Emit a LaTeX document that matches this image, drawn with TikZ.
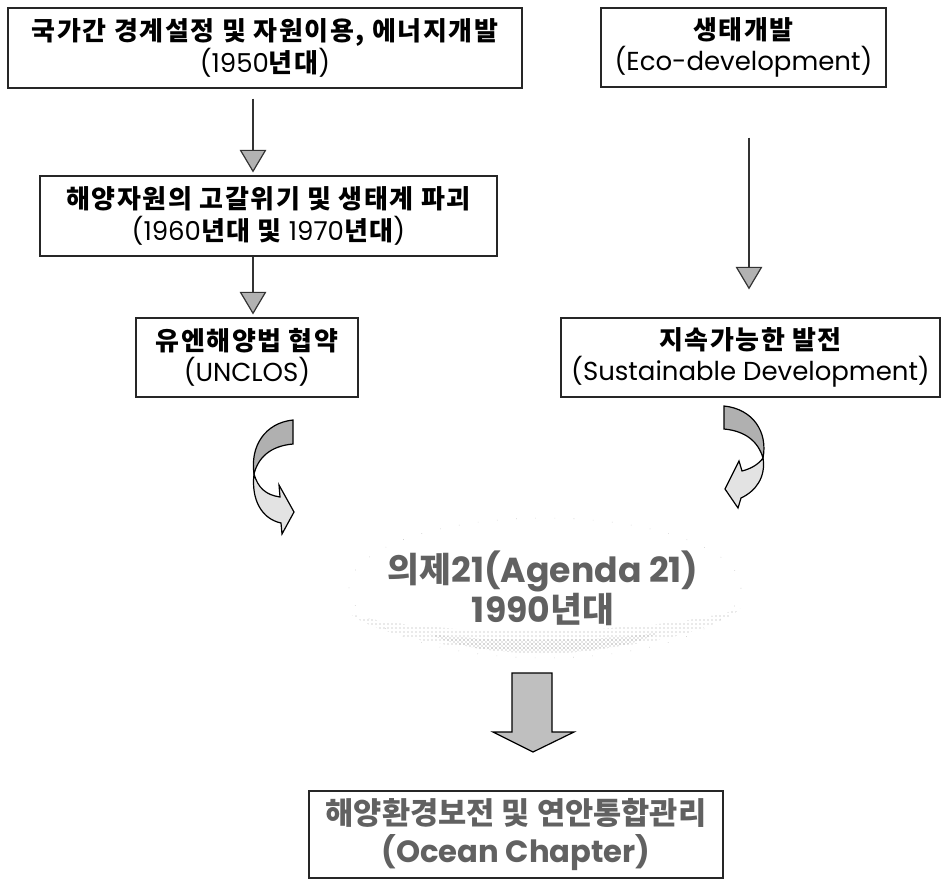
\documentclass[tikz,border=0pt]{standalone}
\usepackage{fontspec}
\setmainfont{Poppins}
\newfontfamily\kr{Noto Sans CJK KR}
\newfontfamily\krsp{Noto Sans CJK KR}[LetterSpace=6]
\usetikzlibrary{calc,arrows.meta,patterns}

\newcommand\hg[1]{{\krsp\bfseries #1}}

\tikzset{
  box/.style={draw=black!85, line width=0.8pt, fill=white, inner sep=0pt,
    align=center, font=\fontsize{19.5}{23.5}\selectfont},
  thinarrow/.style={draw=black!80, line width=1.9pt,
    -{Triangle[width=20pt,length=17pt,fill=gray!60,line width=0.9pt]}},
  darkband/.style={draw=black, line width=0.9pt, fill=gray!62},
  lightband/.style={draw=black, line width=0.9pt, fill=gray!22},
  bigtext/.style={align=center, inner sep=0pt, text=black!62,
    font=\fontsize{26}{25}\selectfont\bfseries},
  oceanfont/.style={font=\fontsize{23}{28.5}\selectfont\bfseries},
}

\begin{document}
\begin{tikzpicture}[x=0.75pt,y=-0.75pt]
\useasboundingbox (0,0) rectangle (942,880);

% boxes
\node[box, minimum width={514*0.75pt}, minimum height={80*0.75pt}] (b1) at (265,48)
  {\hg{국가간 경계설정 및 자원이용, 에너지개발}\\(1950\hg{년대})};
\node[box, minimum width={285*0.75pt}, minimum height={79*0.75pt}] (b2) at (743.5,47.5)
  {\hg{생태개발}\\(Eco-development)};
\node[box, minimum width={457*0.75pt}, minimum height={80*0.75pt}] (b3) at (268.5,216)
  {\hg{해양자원의 고갈위기 및 생태계 파괴}\\(1960\hg{년대 및} 1970\hg{년대})};
\node[box, minimum width={222*0.75pt}, minimum height={79*0.75pt}] (b4) at (247,357.5)
  {\hg{유엔해양법 협약}\\(UNCLOS)};
\node[box, minimum width={379*0.75pt}, minimum height={79*0.75pt}] (b5) at (750.5,357.5)
  {\hg{지속가능한 발전}\\(Sustainable Development)};
\node[box, minimum width={414*0.75pt}, minimum height={87*0.75pt}] (b6) at (516,834.5) {};

% straight connectors
\draw[thinarrow] ($(b1.south)+(-12,10)$) -- ($(b3.north)+(-15.5,-3)$);
\draw[thinarrow] ($(b3.south)+(-15.5,0)$) -- ($(b4.north)+(6,-3)$);
\draw[thinarrow] ($(b2.south)+(5.5,50)$) -- ($(b5.north)+(-1.5,-28)$);

% curved arrow on the left
\draw[darkband] (293,420) .. controls (265,423) and (250,446) .. (254,474)
  .. controls (258,458) and (270,446) .. (293,444) -- cycle;
\draw[lightband] (254,474) .. controls (258,488) and (266,495) .. (280,497)
  -- (279,485) -- (294,512) -- (282,534) -- (281,523)
  .. controls (262,519) and (251,500) .. (254,474) -- cycle;

% curved arrow on the right
\draw[darkband] (724,406) .. controls (753,409) and (768,432) .. (763,458)
  .. controls (758,441) and (745,431) .. (724,429) -- cycle;
\draw[lightband] (763,458) .. controls (758,465) and (750,469) .. (742,471)
  -- (739,461) -- (725,489) -- (738,508) -- (741,498)
  .. controls (756,491) and (766,477) .. (763,458) -- cycle;

% faint halo under the Agenda 21 title
\draw[gray!55, line width=0.4pt, dash pattern=on 0.4pt off 14pt] (545,588) ellipse [x radius=196, y radius=70];
\fill[pattern=dots, pattern color=gray!70] (350,614) .. controls (420,664) and (670,664) .. (742,608)
  .. controls (660,636) and (430,638) .. cycle;
\fill[pattern=crosshatch dots, pattern color=gray!80] (430,634) .. controls (480,660) and (610,660) .. (660,632)
  .. controls (610,642) and (480,642) .. cycle;

% block arrow
\draw[draw=black, line width=0.9pt, fill=gray!50]
  (512,673) -- (552,673) -- (552,732) -- (574,732) -- (533,752) -- (493,732) -- (512,732) -- cycle;

% titles
\node[bigtext] (agenda) at (543,588)
  {{\kr 의제}21(Agenda 21)\\1990{\kr 년대}};
\node[bigtext, oceanfont] (ocean) at (b6.center)
  {{\kr 해양환경보전 및 연안통합관리}\\(Ocean Chapter)};
\end{tikzpicture}
\end{document}
